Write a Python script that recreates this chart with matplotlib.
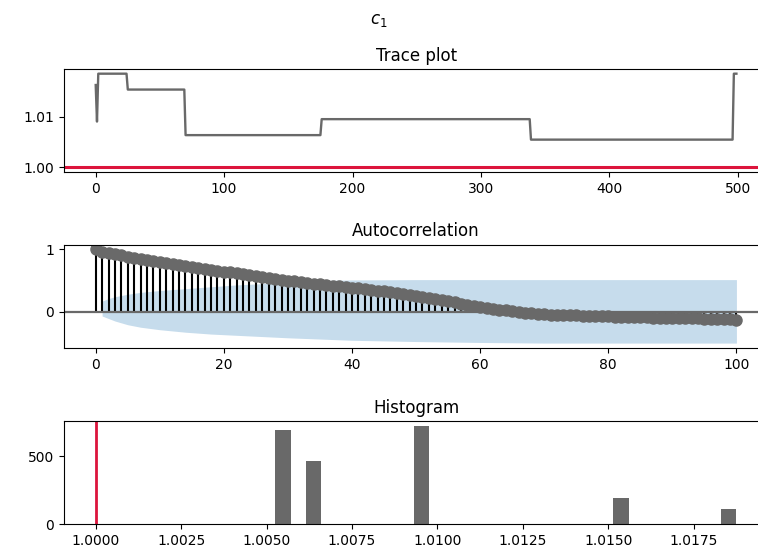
import numpy as np
import matplotlib
matplotlib.use('agg')
import matplotlib.pyplot as plt

true_value = 1.0

# trace: step levels and how many samples each level lasts
trace_levels = [1.01628, 1.00905, 1.01852, 1.01538, 1.00637, 1.00953, 1.00548, 1.01852]
trace_lengths = [1, 1, 23, 45, 106, 163, 158, 3]

# autocorrelation, lags 0..100
acf_values = [
    1.000, 0.965, 0.945, 0.925, 0.905, 0.885, 0.867, 0.849, 0.832, 0.815,
    0.798, 0.782, 0.766, 0.750, 0.735, 0.720, 0.705, 0.690, 0.675, 0.660,
    0.645, 0.630, 0.615, 0.600, 0.585, 0.570, 0.556, 0.542, 0.528, 0.514,
    0.500, 0.488, 0.476, 0.464, 0.452, 0.440, 0.429, 0.418, 0.407, 0.396,
    0.385, 0.374, 0.363, 0.352, 0.340, 0.327, 0.313, 0.299, 0.284, 0.267,
    0.250, 0.233, 0.216, 0.199, 0.182, 0.165, 0.148, 0.131, 0.114, 0.097,
    0.080, 0.064, 0.048, 0.033, 0.019, 0.006, -0.006, -0.016, -0.025, -0.033,
    -0.040, -0.046, -0.051, -0.055, -0.058, -0.061, -0.064, -0.067, -0.070, -0.073,
    -0.076, -0.079, -0.082, -0.085, -0.088, -0.090, -0.092, -0.094, -0.096, -0.098,
    -0.100, -0.102, -0.104, -0.106, -0.108, -0.110, -0.113, -0.116, -0.119, -0.122,
    -0.128,
]

# confidence band outline
band_lags = [1, 2, 3, 5, 7, 10, 14, 18, 22, 26, 30, 35, 40, 50, 60, 70, 80, 90, 100]
band_upper = [0.17, 0.21, 0.24, 0.28, 0.31, 0.34, 0.37, 0.40, 0.43, 0.45, 0.48, 0.50,
              0.51, 0.515, 0.515, 0.515, 0.515, 0.515, 0.515]
band_lower = [-0.07, -0.11, -0.15, -0.21, -0.25, -0.29, -0.33, -0.36, -0.38, -0.40,
              -0.42, -0.44, -0.46, -0.48, -0.495, -0.505, -0.505, -0.505, -0.505]

# histogram bins (left edges) and counts
hist_left = [1.00525, 1.00614, 1.00883, 1.00930, 1.01514, 1.01605, 1.01829]
hist_counts = [697, 468, 5, 722, 197, 5, 113]
hist_width = 0.00046

trace = np.repeat(trace_levels, trace_lengths)
lags = np.arange(len(acf_values))

fig = plt.figure(figsize=(7.58, 5.56), dpi=100)
fig.suptitle('$c_1$')

left, width, height = 0.0840, 0.9298, 0.1853

# trace plot
ax1 = fig.add_axes([left, 0.6906, width, height])
ax1.plot(np.arange(len(trace)), trace, color='dimgray', lw=1.7)
ax1.axhline(true_value, color='crimson', lw=2.2)
ax1.set_yticks([1.00, 1.01])
ax1.set_title('Trace plot')

# autocorrelation
ax2 = fig.add_axes([left, 0.3745, width, height])
ax2.fill_between(band_lags, band_lower, band_upper, color='#c6dcec', lw=0)
ax2.vlines(lags, 0, acf_values, color='black', lw=1.5)
ax2.axhline(0, color='dimgray', lw=1.6)
ax2.plot(lags, acf_values, 'o', color='dimgray', ms=8)
ax2.set_yticks([0, 1])
ax2.set_xticks([0, 20, 40, 60, 80, 100])
ax2.set_title('Autocorrelation')

# histogram
ax3 = fig.add_axes([left, 0.0570, width, height])
ax3.bar(hist_left, hist_counts, width=hist_width, align='edge', color='dimgray')
ax3.axvline(true_value, color='crimson', lw=2)
ax3.set_xticks([1.0, 1.0025, 1.005, 1.0075, 1.01, 1.0125, 1.015, 1.0175])
ax3.set_xticklabels(['1.0000', '1.0025', '1.0050', '1.0075', '1.0100',
                     '1.0125', '1.0150', '1.0175'])
ax3.set_yticks([0, 500])
ax3.set_title('Histogram')

fig.savefig('out.png', dpi=100)
